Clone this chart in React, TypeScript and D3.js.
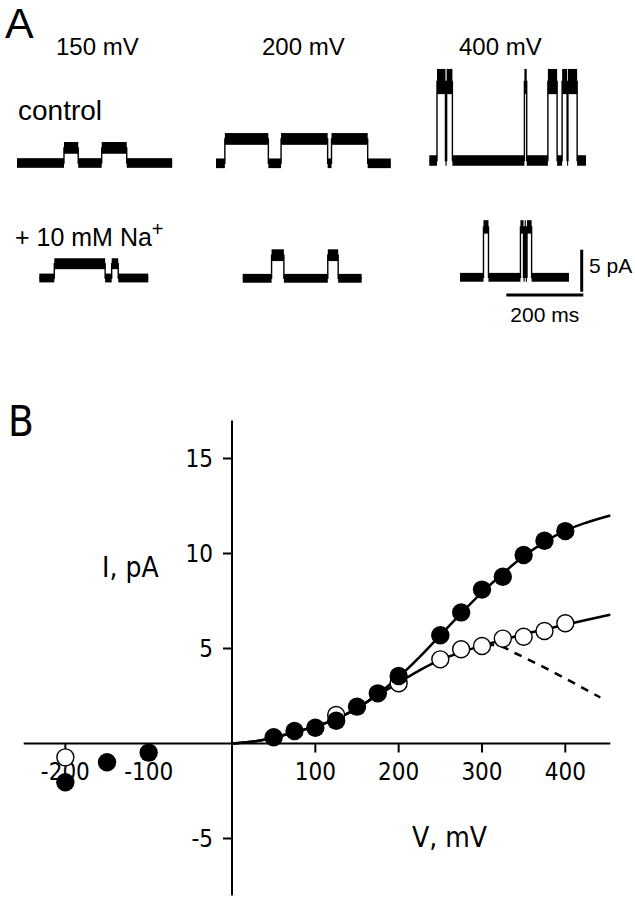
import React from "react";
import * as d3 from "d3";

// ---------- Panel A: single-channel traces ----------
const voltageLabels = ["150 mV", "200 mV", "400 mV"];
const conditionLabels = ["control", "+ 10 mM Na"];

// durations (ms), open amplitude (pA), open intervals (ms from trace start)
const traceDurations = [403, 454, 407, 283, 309, 283];
const traceAmplitudes = [1.8, 2.9, 9.4, 1.7, 2.75, 6.0];
const openNoise = [1.4, 1.4, 3.0, 1.3, 1.4, 1.6];
const closedNoise = [1.15, 1.15, 1.25, 1.05, 1.05, 1.05];
const control150Open: [number, number][] = [[122, 159], [220, 285]];
const control200Open: [number, number][] = [[23, 136], [169, 290], [300, 394]];
const control400Open: [number, number][] = [[20, 42], [45, 60], [247, 253], [308, 332], [345, 358], [360, 384]];
const na150Open: [number, number][] = [[39, 171], [188, 205]];
const na200Open: [number, number][] = [[75, 107], [221, 248]];
const na400Open: [number, number][] = [[61, 74], [157, 165], [168, 171], [174, 186]];
const traceOpenings = [control150Open, control200Open, control400Open, na150Open, na200Open, na400Open];

const scaleBarMs = 200;
const scaleBarPA = 5;

// ---------- Panel B: I-V relation ----------
const ivVoltageTicks = [-200, -100, 100, 200, 300, 400];
const ivCurrentTicks = [-5, 5, 10, 15];

const controlV = [-200, -150, -100, 50, 75, 100, 125, 150, 175, 200, 250, 275, 300, 325, 350, 375, 400];
const controlI = [-2.04, -0.99, -0.48, 0.33, 0.66, 0.83, 1.2, 1.94, 2.64, 3.55, 5.7, 6.9, 8.1, 8.78, 9.92, 10.67, 11.18];
const naV = [-200, 125, 200, 250, 275, 300, 325, 350, 375, 400];
const naI = [-0.73, 1.5, 3.17, 4.43, 4.96, 5.13, 5.52, 5.62, 5.92, 6.33];

const controlFitV = [0, 25, 50, 75, 100, 125, 150, 175, 200, 225, 250, 275, 300, 325, 350, 375, 400, 425, 454];
const controlFitI = [0, 0.1, 0.3, 0.6, 0.9, 1.3, 1.85, 2.6, 3.5, 4.55, 5.7, 6.85, 7.95, 8.95, 9.85, 10.6, 11.2, 11.62, 12.0];
const naFitV = [0, 25, 50, 75, 100, 125, 150, 175, 200, 225, 250, 275, 300, 325, 350, 375, 400, 425, 454];
const naFitI = [0, 0.1, 0.3, 0.6, 0.9, 1.3, 1.85, 2.55, 3.2, 3.85, 4.4, 4.8, 5.15, 5.45, 5.75, 6.0, 6.25, 6.5, 6.78];
const blockFitV = [305, 320, 340, 442];
const blockFitI = [5.2, 5.15, 4.75, 2.42];

const FONT_A = "'Liberation Sans', Arial, sans-serif";
const FONT_B = "'DejaVu Sans Condensed', 'Liberation Sans Narrow', 'DejaVu Sans', sans-serif";

function Trace({ idx, x0, y0, t, a }: { idx: number; x0: number; y0: number; t: d3.ScaleLinear<number, number>; a: d3.ScaleLinear<number, number> }) {
  const dur = traceDurations[idx];
  const amp = traceAmplitudes[idx];
  const opens = traceOpenings[idx];
  const segs: { s: number; e: number; open: boolean }[] = [];
  let cur = 0;
  opens.forEach(([s, e]) => {
    if (s > cur) segs.push({ s: cur, e: s, open: false });
    segs.push({ s, e, open: true });
    cur = e;
  });
  if (cur < dur) segs.push({ s: cur, e: dur, open: false });
  const pts: [number, number][] = [];
  segs.forEach((sg) => {
    pts.push([sg.s, sg.open ? amp : 0]);
  });
  pts.push([dur, segs[segs.length - 1].open ? amp : 0]);
  const line = d3
    .line<[number, number]>()
    .x((d) => x0 + t(d[0]))
    .y((d) => y0 + a(d[1]))
    .curve(d3.curveStepAfter);
  return (
    <g>
      <path d={line(pts) || ""} fill="none" stroke="#000" strokeWidth={1.4} />
      {segs.map((sg, i) => {
        const lvl = sg.open ? amp : 0;
        const nz = sg.open ? openNoise[idx] : closedNoise[idx];
        const h = Math.abs(a(nz));
        return (
          <rect
            key={i}
            x={x0 + t(sg.s)}
            width={Math.max(1, t(sg.e) - t(sg.s))}
            y={y0 + a(lvl) - h / 2}
            height={h}
            fill="#000"
          />
        );
      })}
    </g>
  );
}

export default function App() {
  const t = d3.scaleLinear().domain([0, scaleBarMs]).range([0, 77]);
  const a = d3.scaleLinear().domain([0, scaleBarPA]).range([0, -42]);
  const origins: [number, number][] = [
    [17, 163],
    [216, 163.3],
    [429.3, 160.5],
    [39.3, 278],
    [242.7, 278.3],
    [460, 277.3],
  ];

  const x = d3.scaleLinear().domain([-250, 454]).range([23.7, 610.3]);
  const y = d3.scaleLinear().domain([-8, 17]).range([895.5, 420.5]);
  const fit = d3
    .line<[number, number]>()
    .x((d) => x(d[0]))
    .y((d) => y(d[1]))
    .curve(d3.curveMonotoneX);
  const ctrlFit = fit(controlFitV.map((v, i) => [v, controlFitI[i]] as [number, number])) || "";
  const naFit = fit(naFitV.map((v, i) => [v, naFitI[i]] as [number, number])) || "";
  const blockFit = fit(blockFitV.map((v, i) => [v, blockFitI[i]] as [number, number])) || "";

  const x0 = x(0);
  const y0 = y(0);

  return (
    <svg width={635} height={899} style={{ position: "absolute", left: 0, top: 0, background: "#fff" }}>
      <rect width={635} height={899} fill="#fff" />
      {/* Panel A */}
      <text x={5} y={38} fontFamily={FONT_A} fontSize={43}>A</text>
      {voltageLabels.map((lab, i) => (
        <text key={lab} x={[56, 262, 459][i]} y={55} fontFamily={FONT_A} fontSize={24}>{lab}</text>
      ))}
      <text x={18} y={120} fontFamily={FONT_A} fontSize={28}>{conditionLabels[0]}</text>
      <text x={15} y={246} fontFamily={FONT_A} fontSize={25}>
        {conditionLabels[1]}
        <tspan dy={-10} fontSize={20}>+</tspan>
      </text>
      {traceDurations.map((_, i) => (
        <Trace key={i} idx={i} x0={origins[i][0]} y0={origins[i][1]} t={t} a={a} />
      ))}
      <line x1={581.7} x2={581.7} y1={291.7} y2={291.7 + a(scaleBarPA)} stroke="#000" strokeWidth={3} />
      <line x1={583.3 - t(scaleBarMs)} x2={583.3} y1={295} y2={295} stroke="#000" strokeWidth={3} />
      <text x={589} y={273} fontFamily={FONT_A} fontSize={21}>{scaleBarPA} pA</text>
      <text x={583.3 - t(scaleBarMs) / 2} y={322} textAnchor="middle" fontFamily={FONT_A} fontSize={21}>{scaleBarMs} ms</text>

      {/* Panel B */}
      <text x={8} y={436} fontFamily={FONT_B} fontSize={42}>B</text>
      <line x1={x0} x2={x0} y1={y(17)} y2={y(-8)} stroke="#000" strokeWidth={2} />
      <line x1={x(-250)} x2={x(454)} y1={y0} y2={y0} stroke="#000" strokeWidth={2} />
      {ivCurrentTicks.map((v) => (
        <g key={v}>
          <line x1={x0 - 9} x2={x0} y1={y(v)} y2={y(v)} stroke="#000" strokeWidth={2} />
          <text x={x0 - 19} y={y(v)} dy="0.36em" textAnchor="end" fontFamily={FONT_B} fontSize={24}>{v}</text>
        </g>
      ))}
      {ivVoltageTicks.map((v) => (
        <g key={v}>
          <line x1={x(v)} x2={x(v)} y1={y0} y2={y0 + 9} stroke="#000" strokeWidth={2} />
          <text x={x(v)} y={780} textAnchor="middle" fontFamily={FONT_B} fontSize={24}>{v}</text>
        </g>
      ))}
      <text x={102} y={577} fontFamily={FONT_B} fontSize={28}>I, pA</text>
      <text x={412} y={847} fontFamily={FONT_B} fontSize={28}>V, mV</text>

      <path d={ctrlFit} fill="none" stroke="#000" strokeWidth={2.5} />
      <path d={naFit} fill="none" stroke="#000" strokeWidth={2.5} />
      <path d={blockFit} fill="none" stroke="#000" strokeWidth={2.5} strokeDasharray="8,7" />

      {naV.map((v, i) => (
        <circle key={"n" + v} cx={x(v)} cy={y(naI[i])} r={8.5} fill="#fff" stroke="#000" strokeWidth={1.4} />
      ))}
      {controlV.map((v, i) => (
        <circle key={"c" + v} cx={x(v)} cy={y(controlI[i])} r={9.2} fill="#000" />
      ))}
    </svg>
  );
}
